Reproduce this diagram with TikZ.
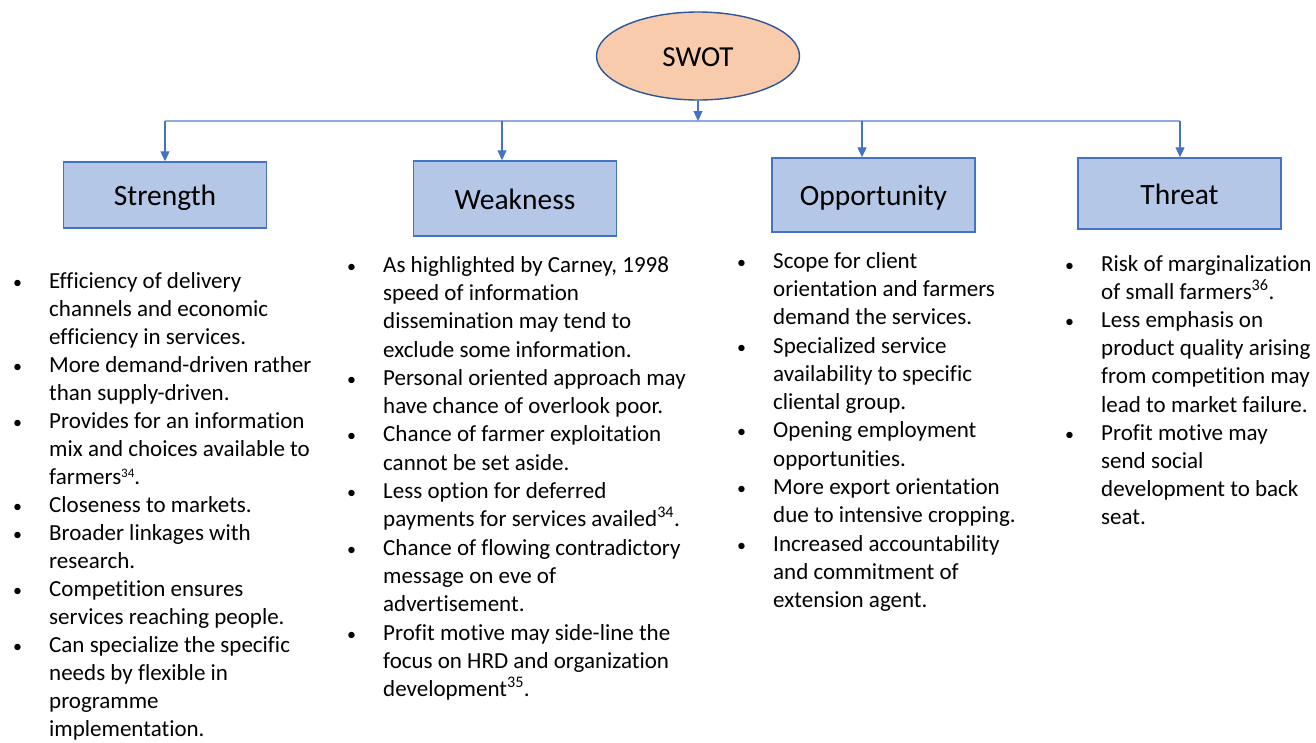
\documentclass[tikz,border=0pt]{standalone}
\usepackage{fontspec}
\setmainfont{Carlito}[Ligatures={NoCommon}]
\usepackage{tikz}
\usetikzlibrary{positioning,shapes.geometric,arrows.meta}
\definecolor{peach}{HTML}{F8CBAD}
\definecolor{boxblue}{HTML}{B4C7E7}
\definecolor{lineblue}{HTML}{4472C4}
\definecolor{darkblue}{HTML}{2F5597}
\definecolor{busblue}{HTML}{8FAADC}
\tikzset{
  swot/.style  = {ellipse, draw=darkblue, line width=1.4pt, fill=peach,
                  minimum width=203, minimum height=88, inner sep=0pt,
                  text height=20.6pt, text depth=0pt,
                  font=\fontsize{29}{32}\selectfont},
  head/.style  = {rectangle, draw=lineblue, line width=1.5pt, fill=boxblue,
                  minimum width=203, inner sep=0pt,
                  text height=21pt, text depth=0pt,
                  font=\fontsize{29.5}{32}\selectfont},
  list/.style  = {anchor=north west, inner sep=0pt, align=left,
                  font=\fontsize{23}{28.2}\selectfont},
  arr/.style   = {-{Triangle[length=10pt,width=9pt]}, lineblue, line width=1.3pt},
  bus/.style   = {busblue, line width=1.3pt}
}
\newcommand{\bul}{\makebox[36pt][l]{\scalebox{0.78}{\textbullet}}}
\newcommand{\cont}{\hspace*{36pt}}

\begin{document}
\begin{tikzpicture}[x=1pt,y=-1pt]
  \useasboundingbox (0,0) rectangle (1316,742);
  \node[swot] (swot) at (698,56) {SWOT};
  \node[head, minimum height=66] (strength)    at (165,195)   {Strength};
  \node[head, minimum height=75] (weakness)    at (515,198.5) {Weakness};
  \node[head, minimum height=74] (opportunity) at (873.5,195) {Opportunity};
  \node[head, minimum height=71] (threat)      at (1179.5,193.5) {Threat};

  \coordinate (busL) at (165,121);
  \coordinate (busR) at (1180,121);
  \coordinate (wDrop) at (502,121);
  \coordinate (oDrop) at (862,121);
  \draw[bus] (busL) -- (busR);
  \draw[arr] (swot.south) -- (swot.south |- busL);
  \draw[arr] (busL) -- (busL |- strength.north);
  \draw[arr] (wDrop) -- (wDrop |- weakness.north);
  \draw[arr] (oDrop) -- (oDrop |- opportunity.north);
  \draw[arr] (busR) -- (busR |- threat.north);

  \node[list, font=\fontsize{23}{28}\selectfont] (strList) at (13,272) {%
    \bul Efficiency of delivery\\
    \cont channels and economic\\
    \cont efficiency in services.\\
    \bul More demand-driven rather\\
    \cont than supply-driven.\\
    \bul Provides for an information\\
    \cont mix and choices available to\\
    \cont farmers{\fontsize{13}{13}\selectfont\raisebox{6.5pt}{34}}.\\
    \bul Closeness to markets.\\
    \bul Broader linkages with\\
    \cont research.\\
    \bul Competition ensures\\
    \cont services reaching people.\\
    \bul Can specialize the specific\\
    \cont needs by flexible in\\
    \cont programme\\
    \cont implementation.};
  \node[list, font=\fontsize{23}{28.3}\selectfont] (weakList) at (347,256) {%
    \bul As highlighted by Carney, 1998\\
    \cont speed of information\\
    \cont dissemination may tend to\\
    \cont exclude some information.\\
    \bul Personal oriented approach may\\
    \cont have chance of overlook poor.\\
    \bul Chance of farmer exploitation\\
    \cont cannot be set aside.\\
    \bul Less option for deferred\\
    \cont payments for services availed\textsuperscript{34}.\\
    \bul Chance of flowing contradictory\\
    \cont message on eve of\\
    \cont advertisement.\\
    \bul Profit motive may side-line the\\
    \cont focus on HRD and organization\\
    \cont development\textsuperscript{35}.};
  \node[list, font=\fontsize{23}{28.3}\selectfont] (oppList) at (737,252) {%
    \bul Scope for client\\
    \cont orientation and farmers\\
    \cont demand the services.\\
    \bul Specialized service\\
    \cont availability to specific\\
    \cont cliental group.\\
    \bul Opening employment\\
    \cont opportunities.\\
    \bul More export orientation\\
    \cont due to intensive cropping.\\
    \bul Increased accountability\\
    \cont and commitment of\\
    \cont extension agent.};
  \node[list, font=\fontsize{23}{28.2}\selectfont] (thrList) at (1065,255) {%
    \bul Risk of marginalization\\
    \cont of small farmers\textsuperscript{36}.\\
    \bul Less emphasis on\\
    \cont product quality arising\\
    \cont from competition may\\
    \cont lead to market failure.\\
    \bul Profit motive may\\
    \cont send social\\
    \cont development to back\\
    \cont seat.};
\end{tikzpicture}
\end{document}
